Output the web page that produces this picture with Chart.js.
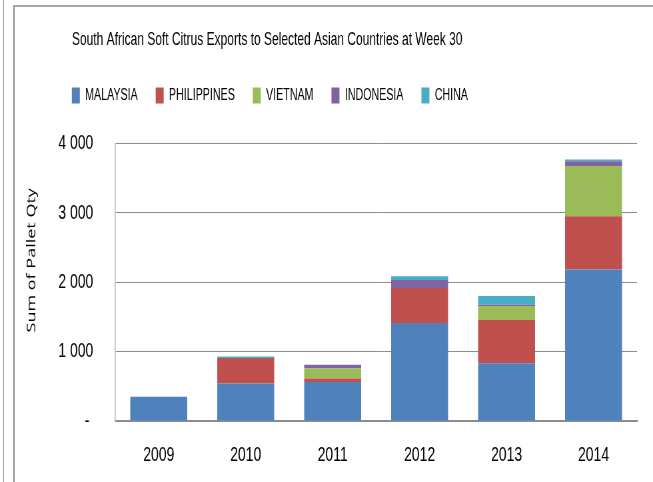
<!DOCTYPE html>
<html>
<head>
<meta charset="utf-8">
<script src="https://cdn.jsdelivr.net/npm/chart.js@4.4.1/dist/chart.umd.min.js"></script>
<style>
  html, body { margin: 0; padding: 0; background: #ffffff; }
  body { width: 653px; height: 482px; position: relative; overflow: hidden; }
  #outer { position: absolute; left: 3px; top: 0; width: 1px; height: 482px; background: #a6a6a6; }
  #frame { position: absolute; left: 13px; top: 5px; width: 638px; height: 600px; border: 1px solid #a6a6a6; border-top-width: 2px; border-left-width: 2px; }
  #wrap { position: absolute; left: 0; top: 0; width: 980px; height: 482px; transform: scaleX(0.66633); transform-origin: 0 0; }
  #c { display: block; }
</style>
</head>
<body>
<div id="outer"></div>
<div id="frame"></div>
<div id="wrap"><canvas id="c" width="980" height="482"></canvas></div>
<script>
const chartTitle = 'South African Soft Citrus Exports to Selected Asian Countries at Week 30';
const yAxisTitle = 'Sum of Pallet Qty';
const categories = ['2009', '2010', '2011', '2012', '2013', '2014'];
const seriesNames = ['MALAYSIA', 'PHILIPPINES', 'VIETNAM', 'INDONESIA', 'CHINA'];
const malaysia    = [350, 540, 562, 1413, 832, 2183];
const philippines = [0, 370, 50, 505, 625, 769];
const vietnam     = [0, 0, 150, 0, 202, 726];
const indonesia   = [0, 0, 48, 116, 19, 67];
const china       = [0, 20, 0, 53, 125, 24];
const yTickValues = [0, 1000, 2000, 3000, 4000];
const yTickLabels = ['- ', '1 000', '2 000', '3 000', '4 000'];
const seriesColors = ['#4F81BD', '#C0504D', '#9BBB59', '#8064A2', '#4BACC6'];

const FONT = '"Liberation Sans", Arial, sans-serif';

const seriesData = [malaysia, philippines, vietnam, indonesia, china];
const datasets = seriesNames.map((n, i) => ({
  label: n,
  data: seriesData[i],
  backgroundColor: seriesColors[i],
  borderWidth: 0,
  categoryPercentage: 1,
  barPercentage: 0.655
}));

const shiftPlugin = {
  id: 'shiftPlugin',
  beforeLayout(chart) {
    const lg = chart.legend;
    if (lg && !lg._patched) {
      const f = lg.fit;
      lg.fit = function () { f.call(this); this.height += 30; };
      lg._patched = true;
    }
  },
  afterLayout(chart) {
    const t = chart.titleBlock;
    if (t) { t.left -= 92; t.right -= 92; }
    const l = chart.legend;
    if (l) { l.left -= 88; l.right -= 88; }
    const ys = chart.scales.y;
    if (ys && !ys._patched) {
      const orig = ys.drawTitle;
      ys.drawTitle = function () {
        const t0 = this.top, b0 = this.bottom;
        this.top -= 44;
        orig.call(this);
        this.top = t0; this.bottom = b0;
      };
      ys._patched = true;
    }
  }
};

new Chart(document.getElementById('c'), {
  type: 'bar',
  data: { labels: categories, datasets },
  plugins: [shiftPlugin],
  options: {
    responsive: false,
    animation: false,
    layout: { padding: { left: 30, right: 24, top: 0, bottom: 0 } },
    plugins: {
      title: {
        display: true,
        text: chartTitle,
        color: '#000000',
        font: { family: FONT, size: 18, weight: 'normal' },
        padding: { top: 29, bottom: 10 }
      },
      legend: {
        display: true,
        position: 'top',
        labels: {
          color: '#000000',
          font: { family: FONT, size: 16 },
          boxWidth: 12,
          boxHeight: 16,
          padding: 27
        }
      },
      tooltip: { enabled: false }
    },
    scales: {
      x: {
        stacked: true,
        grid: { display: false, drawTicks: false },
        border: { display: true, color: '#8c8c8c', width: 2 },
        ticks: { color: '#000000', font: { family: FONT, size: 21 }, padding: 22 },
        afterFit(s) { s.height = 61; }
      },
      y: {
        stacked: true,
        min: 0,
        max: 4000,
        afterBuildTicks(s) { s.ticks = yTickValues.map(v => ({ value: v })); },
        grid: { color: '#8c8c8c', lineWidth: 1, drawTicks: false },
        border: { display: true, color: '#b4b4b4', width: 1.5 },
        ticks: {
          color: '#000000',
          font: { family: FONT, size: 21 },
          padding: 33,
          callback(v) { const i = yTickValues.indexOf(v); return i >= 0 ? yTickLabels[i] : ''; }
        },
        title: {
          display: true,
          text: yAxisTitle,
          color: '#000000',
          font: { family: '"Open Sans", "DejaVu Sans", sans-serif', size: 18 },
          padding: { top: 7, bottom: 0 }
        },
        afterFit(s) { s.width = 143; }
      }
    }
  }
});
</script>
</body>
</html>
